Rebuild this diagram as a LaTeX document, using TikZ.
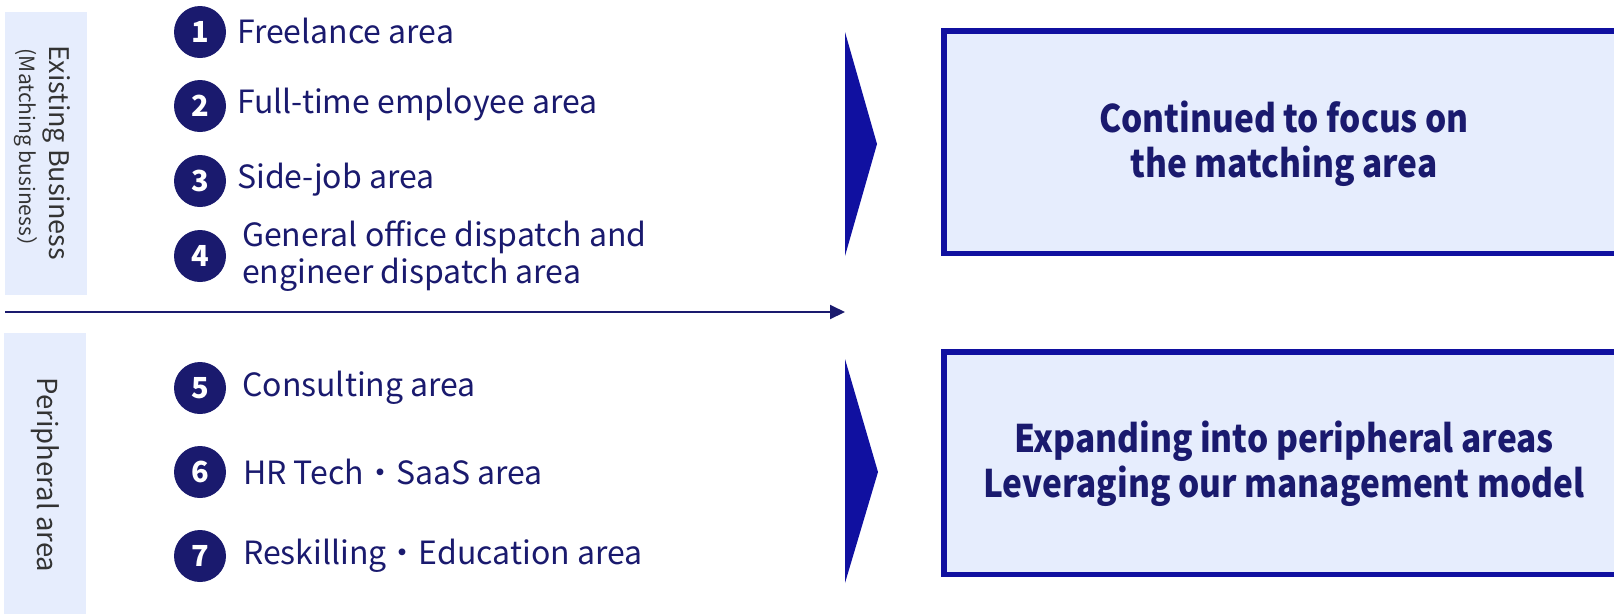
\documentclass[tikz,border=0pt]{standalone}
\usepackage{fontspec}
\setmainfont{Noto Sans CJK JP}
\newfontfamily\condfont[FakeStretch=0.88]{Noto Sans CJK JP}
\usetikzlibrary{arrows.meta}
\definecolor{navy}{HTML}{1A1A6E}
\definecolor{royal}{HTML}{1010A0}
\definecolor{pale}{HTML}{E6EDFD}
\definecolor{labelgray}{HTML}{333333}
\begin{document}
\begin{tikzpicture}[x=1pt,y=-1pt,
  num/.style={circle,fill=navy,text=white,minimum size=52pt,inner sep=0pt,font=\bfseries\fontsize{29}{29}\selectfont},
  item/.style={anchor=west,text=navy,font=\fontsize{32}{37}\selectfont,align=left,inner sep=0pt},
  sidebox/.style={fill=pale,draw=none,inner sep=0pt,minimum width=82pt},
  sidetext/.style={rotate=-90,text=labelgray,align=center,inner sep=0pt},
  resbox/.style={fill=pale,draw=royal,line width=5.5pt},
  restext/.style={text=navy,font=\condfont\bfseries\fontsize{38}{45}\selectfont,align=center,inner sep=0pt},
  chevron/.style={fill=royal,draw=none},
  flow/.style={navy,line width=2pt,-{Triangle[length=15pt,width=14pt]}}]
\useasboundingbox (0,0) rectangle (1614,614);

% side labels
\node[sidebox,minimum height=283pt] (exbox) at (46,153.5) {};
\node[sidetext] (extxt) at (42,153) {\fontsize{27}{30}\selectfont Existing Business\\[4pt]\fontsize{21}{22}\selectfont (Matching business）};
\node[sidebox,minimum height=281pt] (pebox) at (45,473.5) {};
\node[sidetext,font=\fontsize{27.5}{30}\selectfont] (petxt) at (45,475) {Peripheral area};

% numbered items
\node[num] (n1) at (200,32) {1};
\node[num] (n2) at (200,106) {2};
\node[num] (n3) at (200,181) {3};
\node[num] (n4) at (200,256) {4};
\node[num] (n5) at (200,388) {5};
\node[num] (n6) at (200,472) {6};
\node[num] (n7) at (200,556) {7};

\node[item] (t1) at (237,31) {Freelance area};
\node[item] (t2) at (237,105) {Full-time employee area};
\node[item] (t3) at (237,180) {Side-job area};
\node[item] (t4) at (242,256) {General office dispatch and\\engineer dispatch area};
\node[item] (t5) at (242,388) {Consulting area};
\node[item] (t6) at (243,472) {HR Tech・SaaS area};
\node[item] (t7) at (243,556) {Reskilling・Education area};

% divider arrow
\coordinate (as) at (5,312);
\coordinate (ae) at (845,312);
\draw[flow] (as) -- (ae);

% chevrons
\fill[chevron] (845,32) -- (877,144) -- (845,256) -- cycle;
\fill[chevron] (845,359) -- (878,472) -- (845,583) -- cycle;

% result boxes
\draw[resbox] (943.75,30.75) rectangle (1700,253.25);
\draw[resbox] (943.75,351.75) rectangle (1700,574.25);
\node[restext] (r1) at (1284,144) {Continued to focus on\\the matching area};
\node[restext] (r2) at (1284,464) {Expanding into peripheral areas\\Leveraging our management model};
\end{tikzpicture}
\end{document}
